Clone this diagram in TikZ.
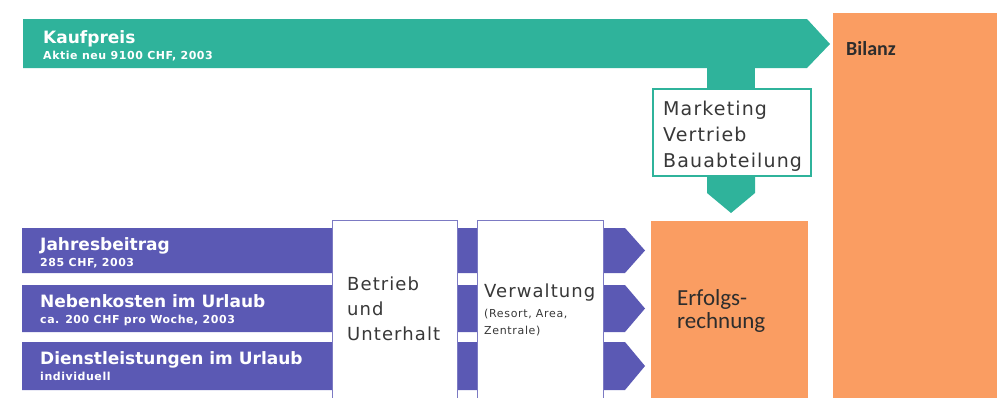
\documentclass[tikz,border=0pt]{standalone}
\usepackage{fontspec}
\setmainfont{DejaVu Sans}
\newfontfamily\boxfont[LetterSpace=6]{DejaVu Sans}
\newfontfamily\subfont[LetterSpace=5]{DejaVu Sans}
\newfontfamily\calfont{Carlito}
\definecolor{teal1}{HTML}{2FB39B}
\definecolor{purp}{HTML}{5B59B4}
\definecolor{orng}{HTML}{FA9D62}
\definecolor{txt}{HTML}{383838}
\begin{document}
\begin{tikzpicture}[x=1pt,y=-1pt,
  bartitle/.style={anchor=base west,inner sep=0pt,text=white,font=\fontsize{17}{20}\selectfont\bfseries},
  barsub/.style={anchor=base west,inner sep=0pt,text=white,font=\subfont\fontsize{11}{12}\selectfont\bfseries},
  boxtext/.style={anchor=base west,inner sep=0pt,text=txt,font=\boxfont\fontsize{18}{20}\selectfont},
  smalltext/.style={anchor=base west,inner sep=0pt,text=txt,font=\boxfont\fontsize{11}{12}\selectfont},
  orangetext/.style={anchor=base west,inner sep=0pt,text=txt!80!black,font=\calfont\fontsize{23}{24}\selectfont},
  whitebox/.style={fill=white,draw=purp!80,line width=1.2pt,anchor=north west,inner sep=0pt}]
\useasboundingbox (0,0) rectangle (1000,397);
% orange blocks
\fill[orng] (833,13) rectangle (997,400);
\fill[orng] (651,221) rectangle (808,400);
% green bar and stem
\fill[teal1] (23,19) -- (807,19) -- (830,44) -- (807,68) -- (23,68) -- cycle;
\fill[teal1] (707,66) rectangle (755,90);
\fill[teal1] (707,173) -- (755,173) -- (755,193) -- (731,213) -- (707,193) -- cycle;
\node[draw=teal1,line width=1.5pt,fill=white,minimum width=158pt,minimum height=87pt,anchor=north west,inner sep=0pt] (mkt) at (652,88) {};
\node[boxtext,font=\boxfont\fontsize{19}{21}\selectfont] (m1) at (663,115) {Marketing};
\node[boxtext,font=\boxfont\fontsize{19}{21}\selectfont] (m2) at (663,141) {Vertrieb};
\node[boxtext,font=\boxfont\fontsize{19}{21}\selectfont] (m3) at (663,167) {Bauabteilung};
% purple bands
\foreach \t/\b in {228/273,285/332,342/390}{
  \fill[purp] (22,\t) -- (625,\t) -- (645,{(\t+\b)/2}) -- (625,\b) -- (22,\b) -- cycle;
}
\node[whitebox,minimum width=125pt,minimum height=180pt] (betrieb) at (332,220) {};
\node[whitebox,minimum width=126pt,minimum height=180pt] (verw) at (477,220) {};
% texts
\node[bartitle] (kauf) at (43,43) {Kaufpreis};
\node[barsub] (kaufsub) at (43,59) {Aktie neu 9100 CHF, 2003};
\node[bartitle] (jahr) at (40,250) {Jahresbeitrag};
\node[barsub] (jahrsub) at (40,266) {285 CHF, 2003};
\node[bartitle] (neben) at (40,307) {Nebenkosten im Urlaub};
\node[barsub] (nebensub) at (40,323) {ca. 200 CHF pro Woche, 2003};
\node[bartitle] (dienst) at (40,364) {Dienstleistungen im Urlaub};
\node[barsub] (dienstsub) at (40,380) {individuell};
\node[boxtext] (b1) at (347,290) {Betrieb};
\node[boxtext] (b2) at (347,315) {und};
\node[boxtext] (b3) at (347,340) {Unterhalt};
\node[boxtext] (v1) at (484,297) {Verwaltung};
\node[smalltext] (v2) at (484,317) {(Resort, Area,};
\node[smalltext] (v3) at (484,334) {Zentrale)};
\node[orangetext] (e1) at (677,305) {Erfolgs-};
\node[orangetext] (e2) at (677,328) {rechnung};
\node[orangetext,font=\calfont\fontsize{20}{22}\selectfont\bfseries] (bil) at (846,55) {Bilanz};
\end{tikzpicture}
\end{document}
